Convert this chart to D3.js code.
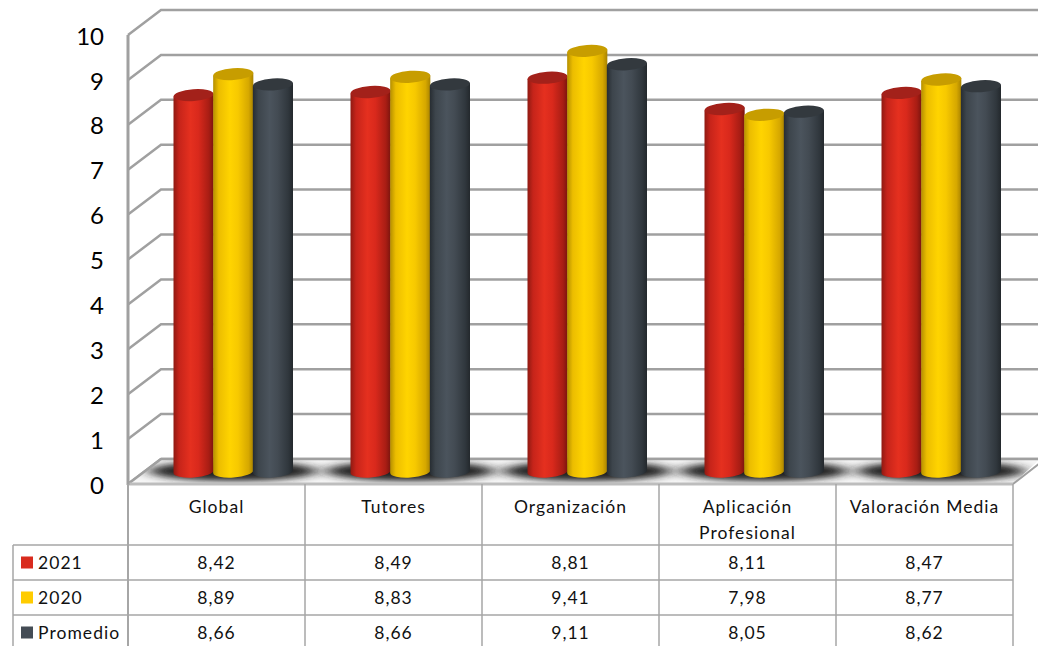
<!DOCTYPE html>
<html><head><meta charset="utf-8">
<script src="https://cdnjs.cloudflare.com/ajax/libs/d3/7.8.5/d3.min.js"></script>
<style>html,body{margin:0;padding:0;background:#fff}svg{display:block}</style>
</head><body><svg id="c" width="1038" height="646"></svg>
<script>
const categories = ["Global","Tutores","Organización","Aplicación Profesional","Valoración Media"];
const seriesNames = ["2021","2020","Promedio"];
const values2021 = [8.42,8.49,8.81,8.11,8.47];
const values2020 = [8.89,8.83,9.41,7.98,8.77];
const valuesProm = [8.66,8.66,9.11,8.05,8.62];
const yTicks = [0,1,2,3,4,5,6,7,8,9,10];
const seriesValues = [values2021,values2020,valuesProm];
const fmt = v => v.toFixed(2).replace(".",",");
const FONT = "Lato, Carlito, sans-serif";
const palette = [
 {key:"#d92b1e", stops:["#8f1a12","#c6241a","#e5301f","#d9291c","#a81d14","#7a140e"], top:"#a3211a"},
 {key:"#ffcc00", stops:["#b58f00","#ecbd00","#ffd400","#f7c900","#d6a800","#a98300"], top:"#c79d00"},
 {key:"#444c55", stops:["#272d32","#3d454c","#4b545d","#434b53","#30373d","#23282c"], top:"#33393e"}
];
const svg = d3.select("#c");
const defs = svg.append("defs");
palette.forEach((p,i)=>{
  const g = defs.append("linearGradient").attr("id","g"+i);
  [0,.14,.42,.62,.88,1].forEach((o,j)=>g.append("stop").attr("offset",o).attr("stop-color",p.stops[j]));
});
defs.append("filter").attr("id","blur").attr("x","-30%").attr("y","-150%").attr("width","160%").attr("height","400%")
  .append("feGaussianBlur").attr("stdDeviation","9 3");
defs.append("filter").attr("id","soft").append("feGaussianBlur").attr("stdDeviation","0.4");

// scales
const x = d3.scaleBand().domain(categories).range([128,1013]);
const inner = d3.scaleBand().domain(seriesNames).range([46,165]);
const yFront = d3.scaleLinear().domain([0,10]).range([484,35]);
const depth = {dx:33, dy:-25};
const yBack = v => yFront(v)+depth.dy;
const baseY = 471.5;
const hScale = d3.scaleLinear().domain([0,10]).range([0,447]);
const line = d3.line();
const grid = "#a0a0a0";

// grid & wall
const wall = svg.append("g").attr("filter","url(#soft)");
yTicks.forEach(t=>{
  wall.append("path").attr("fill","none").attr("stroke",grid).attr("stroke-width",2.5)
    .attr("d",line([[128,yFront(t)],[128+depth.dx,yBack(t)],[1040,yBack(t)]]));
});
// floor
const floor = [[128,484],[161,459],[1040,459],[1013,484]];
defs.append("clipPath").attr("id","floorClip").append("path").attr("d",line(floor)+"Z");
svg.append("path").attr("d",line(floor)+"Z").attr("fill","#f6f6f6");
const shadows = svg.append("g").attr("clip-path","url(#floorClip)");
categories.forEach(c=>{
  shadows.append("ellipse").attr("cx",x(c)+inner.range()[0]+59).attr("cy",471)
    .attr("rx",84).attr("ry",10).attr("fill","#222").attr("filter","url(#blur)");
});
const edges = svg.append("g").attr("filter","url(#soft)").attr("fill","none").attr("stroke",grid);
edges.append("path").attr("stroke-width",2.5).attr("d",line([[161,459],[1040,459]]));
edges.append("path").attr("stroke-width",2.5).attr("d",line([[128,484],[161,459]]));
edges.append("path").attr("stroke-width",2).attr("d",line([[1013,484],[1040,463]]));
edges.append("path").attr("stroke","#bdbdbd").attr("stroke-width",3).attr("d",line([[128,484],[1013,484]]));
edges.append("path").attr("stroke-width",3).attr("d",line([[128,yFront(10)],[128,485]]));

// bars
const tilt = -4;
categories.forEach((c,ci)=>{
  const g = svg.append("g");
  seriesNames.forEach((s,si)=>{
    const v = seriesValues[si][ci];
    const w = inner.bandwidth()+0.5;
    const x0 = x(c)+inner(s)-0.5;
    const cx = x0+w/2, rx=w/2, ry=6;
    const topY = baseY-hScale(v);
    const dy = rx*Math.tan(tilt*Math.PI/180);
    g.append("path")
      .attr("d",`M${x0},${topY-dy} L${x0},${baseY-dy} A${rx},${ry} ${tilt} 0 0 ${x0+w},${baseY+dy} L${x0+w},${topY+dy} Z`)
      .attr("fill",`url(#g${si})`);
    g.append("ellipse").attr("cx",cx).attr("cy",topY).attr("rx",rx).attr("ry",ry)
      .attr("transform",`rotate(${tilt} ${cx} ${topY})`)
      .attr("fill",palette[si].top);
  });
});

// y labels
svg.append("g").selectAll("text").data(yTicks).join("text")
  .attr("x",104).attr("y",d=>yFront(d)+1).attr("dy","0.36em").attr("text-anchor","end")
  .attr("font-family",FONT).attr("font-size",24).attr("fill","#000").text(d=>d);

// data table
const rowTops = [484,545,580,615,650];
const tableLeft = 13;
const t = svg.append("g");
const tc = "#a6a6a6";
const ln = (x1,y1,x2,y2,w)=>t.append("line").attr("x1",x1).attr("y1",y1).attr("x2",x2).attr("y2",y2).attr("stroke",tc).attr("stroke-width",w||1.5);
[...x.domain().map(c=>x(c)),x.range()[1]].forEach((px,i)=>ln(px,484,px,650,i===0?2:1.5));
rowTops.slice(1,4).forEach(r=>ln(tableLeft,r,1013,r,1.5));
ln(tableLeft,rowTops[1],tableLeft,650,1.5);

const txt = (px,py,s,anchor)=>t.append("text").attr("x",px).attr("y",py).attr("text-anchor",anchor||"middle")
   .attr("font-family",FONT).attr("font-size",17.5).attr("letter-spacing",1.05).attr("fill","#111").text(s);
categories.forEach(c=>{
  const cx = x(c)+x.bandwidth()/2;
  if(c==="Aplicación Profesional"){
    txt(cx,513,"Aplicación"); txt(cx,539,"Profesional");
  } else txt(cx,513,c);
});
seriesNames.forEach((s,si)=>{
  const top = rowTops[si+1], mid = top+17.5;
  t.append("rect").attr("x",21).attr("y",mid-6).attr("width",12).attr("height",12).attr("fill",palette[si].key);
  txt(38,mid+6,s,"start");
  categories.forEach((c,ci)=>txt(x(c)+x.bandwidth()/2,mid+6,fmt(seriesValues[si][ci])));
});
</script></body></html>
